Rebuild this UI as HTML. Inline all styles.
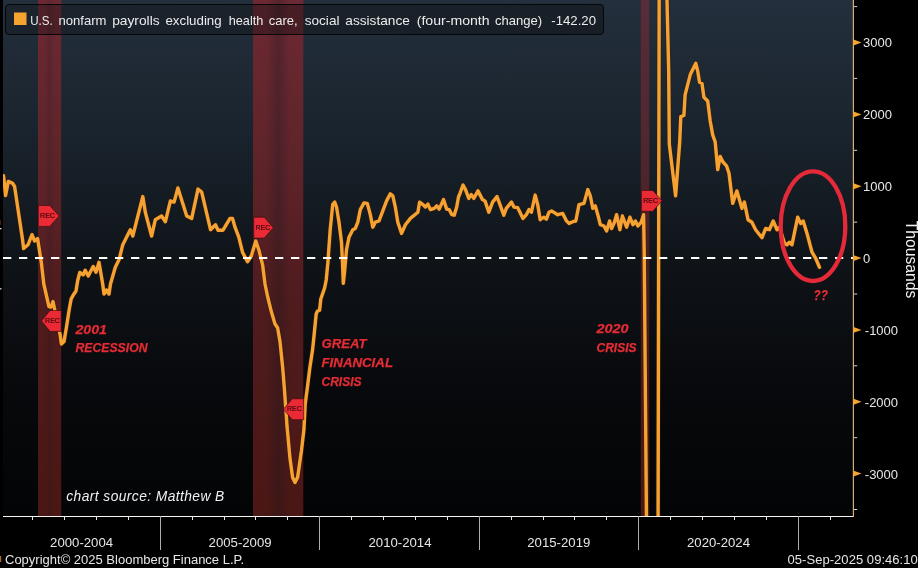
<!DOCTYPE html>
<html lang="en"><head><meta charset="utf-8"><title>U.S. nonfarm payrolls excluding health care, social assistance</title>
<style>
html,body{margin:0;padding:0;background:#000;overflow:hidden}
body{width:918px;height:568px;position:relative;font-family:"Liberation Sans",sans-serif}
svg{display:block;position:absolute;left:0;top:0}
text{font-family:"Liberation Sans",sans-serif}
.ax{font-size:13px;fill:#e6e6e6}
.ann{font-size:13px;font-weight:bold;font-style:italic;fill:#e62c34;stroke:#e62c34;stroke-width:0.25px}
.rec{font-size:7px;fill:#45060a;stroke:#45060a;stroke-width:0.2px}
</style></head><body>
<svg width="918" height="568" viewBox="0 0 918 568" role="img" aria-label="U.S. nonfarm payrolls chart">
<defs>
<linearGradient id="bg" x1="0" y1="0" x2="0" y2="1">
<stop offset="0" stop-color="#232f3c"/>
<stop offset="0.25" stop-color="#1a242e"/>
<stop offset="0.5" stop-color="#0f1419"/>
<stop offset="0.75" stop-color="#08090c"/>
<stop offset="1" stop-color="#030405"/>
</linearGradient>
<linearGradient id="band" x1="0" y1="0" x2="0" y2="1">
<stop offset="0" stop-color="#6d2933"/>
<stop offset="0.3" stop-color="#5f242a"/>
<stop offset="0.6" stop-color="#4f1b1d"/>
<stop offset="1" stop-color="#4b1714"/>
</linearGradient>
<linearGradient id="band3" x1="0" y1="0" x2="0" y2="1">
<stop offset="0" stop-color="#582c38"/>
<stop offset="0.3" stop-color="#50262e"/>
<stop offset="0.6" stop-color="#471c1f"/>
<stop offset="1" stop-color="#4b1714"/>
</linearGradient>
<linearGradient id="leg" x1="0" y1="0" x2="1" y2="0"><stop offset="0" stop-color="#0b0c0e" stop-opacity="0.3"/><stop offset="1" stop-color="#0b0c0e" stop-opacity="0.44"/></linearGradient>
<linearGradient id="stripe" x1="0" y1="0" x2="1" y2="0"><stop offset="0" stop-color="#0c1620" stop-opacity="0"/><stop offset="0.5" stop-color="#0c1620" stop-opacity="0.3"/><stop offset="1" stop-color="#0c1620" stop-opacity="0"/></linearGradient>
<clipPath id="plot"><rect x="3" y="0" width="850" height="516"/></clipPath>
</defs>
<rect x="0" y="0" width="918" height="568" fill="#000"/>
<rect x="3" y="0" width="850.5" height="516" fill="url(#bg)"/>
<rect x="38" y="0" width="23.2" height="516" fill="url(#band)"/>
<rect x="44.0" y="0" width="11.1" height="516" fill="url(#stripe)" opacity="0.5"/>
<rect x="253" y="0" width="50.3" height="516" fill="url(#band)"/>
<rect x="266.1" y="0" width="24.1" height="516" fill="url(#stripe)" opacity="0.85"/>
<rect x="640.8" y="0" width="8.5" height="516" fill="url(#band3)"/>
<g clip-path="url(#plot)"><polyline points="3.6,175.8 5.6,195.5 8.3,181.4 12.7,183.4 14.6,186.5 22.6,240.0 23.6,248.5 28.0,244.8 32.0,234.7 34.6,241.0 37.6,238.5 41.3,262.3 43.8,284.0 48.9,306.5 51.0,307.0 53.0,301.5 54.6,309.0 60.0,334.0 61.4,344.0 64.0,341.6 66.5,327.0 69.2,309.5 71.2,298.8 73.8,294.2 76.0,291.0 77.7,280.5 79.8,272.5 83.2,274.8 85.2,270.3 88.2,276.0 93.2,266.5 96.0,272.3 99.0,262.3 102.7,284.0 104.0,294.0 106.5,290.0 109.0,294.0 110.5,284.0 115.3,267.3 119.0,259.8 122.8,244.7 130.3,229.7 132.8,236.0 142.8,196.6 145.3,212.2 151.6,236.0 155.3,219.7 161.6,216.0 165.4,221.7 170.4,200.9 174.1,202.1 177.9,187.9 186.7,216.0 191.7,218.4 198.0,189.1 201.7,192.1 210.5,229.7 215.5,224.7 218.0,230.2 223.0,230.2 230.0,218.4 232.5,218.4 235.0,227.2 238.8,237.2 242.5,252.2 247.5,261.8 251.3,256.0 255.8,241.0 258.8,249.7 262.6,264.8 265.0,284.0 267.6,296.5 271.3,311.6 275.0,324.0 277.6,327.8 280.0,341.6 282.6,366.7 284.6,391.7 286.4,416.8 287.0,426.0 290.0,458.6 292.6,477.4 295.0,482.4 297.6,477.4 301.4,451.0 303.9,429.8 305.2,404.0 307.2,389.0 309.8,368.0 312.6,349.6 314.6,330.0 316.2,314.0 317.3,311.3 319.6,310.2 320.8,299.0 324.6,288.0 326.2,280.0 327.9,262.3 330.2,229.7 332.7,204.6 334.7,202.1 336.5,207.0 339.0,222.2 341.5,242.2 342.7,267.3 343.3,283.4 344.5,272.3 346.5,249.7 349.0,237.2 352.8,229.7 355.3,228.4 357.8,222.2 360.3,209.6 364.0,202.9 367.3,203.4 370.3,214.6 372.8,227.2 375.3,222.2 379.0,221.0 382.8,210.9 386.6,200.9 390.3,193.9 392.8,195.9 395.3,207.0 397.8,222.2 401.6,233.4 405.4,224.7 410.4,218.4 417.9,212.2 419.6,202.1 422.9,204.6 425.4,207.0 427.9,204.1 430.4,209.6 434.2,208.4 436.7,205.9 439.2,209.1 443.5,199.6 446.7,209.1 449.2,209.6 451.7,214.6 454.2,215.2 456.7,207.0 458.5,197.0 460.0,193.4 463.0,185.0 465.5,189.6 468.8,198.4 471.3,194.6 473.8,198.4 478.0,190.9 482.5,199.6 485.0,200.9 488.8,212.2 492.6,202.1 497.0,196.6 500.0,204.6 503.8,215.2 506.3,208.4 511.4,202.1 513.9,207.1 517.6,207.6 523.0,218.4 526.4,214.7 529.0,209.6 531.4,212.2 535.2,195.1 537.7,204.6 540.2,219.7 544.0,217.2 546.4,219.2 549.0,212.2 551.5,210.9 557.7,214.7 562.7,213.4 566.5,220.9 569.0,223.4 572.8,221.7 575.8,221.0 579.0,204.6 584.0,203.4 587.8,189.6 590.3,195.9 592.8,208.4 595.3,205.9 597.8,214.7 600.3,224.7 604.0,226.0 606.6,231.0 609.6,221.0 611.6,228.5 614.0,223.4 616.6,214.7 619.9,229.7 622.4,216.0 626.6,227.2 629.9,217.2 632.9,224.7 635.4,221.0 637.9,226.0 641.2,222.2 643.6,214.7 644.2,250.0 646.8,560.0 658.0,560.0 659.2,-20.0 666.5,-20.0 668.7,71.0 669.3,144.0 675.6,195.9 679.7,142.0 680.8,116.7 683.9,115.5 685.1,94.8 690.2,74.8 692.0,71.0 695.8,63.3 697.7,71.0 699.5,82.3 702.0,83.5 703.9,97.3 707.7,101.0 710.2,121.0 712.7,134.9 715.2,142.0 717.7,169.6 720.2,156.4 723.0,162.0 726.5,165.8 729.0,173.3 732.7,203.4 736.9,190.9 741.9,208.4 744.4,202.1 748.0,219.7 751.9,222.2 755.6,229.7 762.0,237.7 765.7,228.4 769.4,229.7 773.2,221.0 777.0,229.7 779.5,227.2 784.5,243.5 787.0,244.7 789.5,242.2 792.0,244.7 797.7,217.2 800.7,223.4 803.2,221.0 807.0,233.4 812.0,252.2 815.8,258.5 819.5,267.3" fill="none" stroke="#3a1c08" stroke-opacity="0.5" stroke-width="5" stroke-linejoin="round" stroke-linecap="round"/>
<polyline points="3.6,175.8 5.6,195.5 8.3,181.4 12.7,183.4 14.6,186.5 22.6,240.0 23.6,248.5 28.0,244.8 32.0,234.7 34.6,241.0 37.6,238.5 41.3,262.3 43.8,284.0 48.9,306.5 51.0,307.0 53.0,301.5 54.6,309.0 60.0,334.0 61.4,344.0 64.0,341.6 66.5,327.0 69.2,309.5 71.2,298.8 73.8,294.2 76.0,291.0 77.7,280.5 79.8,272.5 83.2,274.8 85.2,270.3 88.2,276.0 93.2,266.5 96.0,272.3 99.0,262.3 102.7,284.0 104.0,294.0 106.5,290.0 109.0,294.0 110.5,284.0 115.3,267.3 119.0,259.8 122.8,244.7 130.3,229.7 132.8,236.0 142.8,196.6 145.3,212.2 151.6,236.0 155.3,219.7 161.6,216.0 165.4,221.7 170.4,200.9 174.1,202.1 177.9,187.9 186.7,216.0 191.7,218.4 198.0,189.1 201.7,192.1 210.5,229.7 215.5,224.7 218.0,230.2 223.0,230.2 230.0,218.4 232.5,218.4 235.0,227.2 238.8,237.2 242.5,252.2 247.5,261.8 251.3,256.0 255.8,241.0 258.8,249.7 262.6,264.8 265.0,284.0 267.6,296.5 271.3,311.6 275.0,324.0 277.6,327.8 280.0,341.6 282.6,366.7 284.6,391.7 286.4,416.8 287.0,426.0 290.0,458.6 292.6,477.4 295.0,482.4 297.6,477.4 301.4,451.0 303.9,429.8 305.2,404.0 307.2,389.0 309.8,368.0 312.6,349.6 314.6,330.0 316.2,314.0 317.3,311.3 319.6,310.2 320.8,299.0 324.6,288.0 326.2,280.0 327.9,262.3 330.2,229.7 332.7,204.6 334.7,202.1 336.5,207.0 339.0,222.2 341.5,242.2 342.7,267.3 343.3,283.4 344.5,272.3 346.5,249.7 349.0,237.2 352.8,229.7 355.3,228.4 357.8,222.2 360.3,209.6 364.0,202.9 367.3,203.4 370.3,214.6 372.8,227.2 375.3,222.2 379.0,221.0 382.8,210.9 386.6,200.9 390.3,193.9 392.8,195.9 395.3,207.0 397.8,222.2 401.6,233.4 405.4,224.7 410.4,218.4 417.9,212.2 419.6,202.1 422.9,204.6 425.4,207.0 427.9,204.1 430.4,209.6 434.2,208.4 436.7,205.9 439.2,209.1 443.5,199.6 446.7,209.1 449.2,209.6 451.7,214.6 454.2,215.2 456.7,207.0 458.5,197.0 460.0,193.4 463.0,185.0 465.5,189.6 468.8,198.4 471.3,194.6 473.8,198.4 478.0,190.9 482.5,199.6 485.0,200.9 488.8,212.2 492.6,202.1 497.0,196.6 500.0,204.6 503.8,215.2 506.3,208.4 511.4,202.1 513.9,207.1 517.6,207.6 523.0,218.4 526.4,214.7 529.0,209.6 531.4,212.2 535.2,195.1 537.7,204.6 540.2,219.7 544.0,217.2 546.4,219.2 549.0,212.2 551.5,210.9 557.7,214.7 562.7,213.4 566.5,220.9 569.0,223.4 572.8,221.7 575.8,221.0 579.0,204.6 584.0,203.4 587.8,189.6 590.3,195.9 592.8,208.4 595.3,205.9 597.8,214.7 600.3,224.7 604.0,226.0 606.6,231.0 609.6,221.0 611.6,228.5 614.0,223.4 616.6,214.7 619.9,229.7 622.4,216.0 626.6,227.2 629.9,217.2 632.9,224.7 635.4,221.0 637.9,226.0 641.2,222.2 643.6,214.7 644.2,250.0 646.8,560.0 658.0,560.0 659.2,-20.0 666.5,-20.0 668.7,71.0 669.3,144.0 675.6,195.9 679.7,142.0 680.8,116.7 683.9,115.5 685.1,94.8 690.2,74.8 692.0,71.0 695.8,63.3 697.7,71.0 699.5,82.3 702.0,83.5 703.9,97.3 707.7,101.0 710.2,121.0 712.7,134.9 715.2,142.0 717.7,169.6 720.2,156.4 723.0,162.0 726.5,165.8 729.0,173.3 732.7,203.4 736.9,190.9 741.9,208.4 744.4,202.1 748.0,219.7 751.9,222.2 755.6,229.7 762.0,237.7 765.7,228.4 769.4,229.7 773.2,221.0 777.0,229.7 779.5,227.2 784.5,243.5 787.0,244.7 789.5,242.2 792.0,244.7 797.7,217.2 800.7,223.4 803.2,221.0 807.0,233.4 812.0,252.2 815.8,258.5 819.5,267.3" fill="none" stroke="#f6a232" stroke-width="3.4" stroke-linejoin="round" stroke-linecap="round"/></g>
<g clip-path="url(#plot)"><line x1="3" y1="258" x2="855" y2="258" stroke="#fff" stroke-width="2" stroke-dasharray="8.3 7.7"/></g>
<path d="M38.3,205.5 L49.699999999999996,205.5 L59.199999999999996,215.95 L49.699999999999996,226.4 L38.3,226.4 Z" fill="#ea2a35" stroke="#3c0a0d" stroke-opacity="0.75" stroke-width="0.9" stroke-linejoin="round"/>
<text class="rec" x="40.1" y="217.9" textLength="14.8" lengthAdjust="spacingAndGlyphs">REC</text>
<path d="M253.7,217.2 L264.3,217.2 L273.3,227.65 L264.3,238.1 L253.7,238.1 Z" fill="#ea2a35" stroke="#3c0a0d" stroke-opacity="0.75" stroke-width="0.9" stroke-linejoin="round"/>
<text class="rec" x="255.5" y="229.6" textLength="14.8" lengthAdjust="spacingAndGlyphs">REC</text>
<path d="M641.4,190.4 L652.8,190.4 L662.0,200.85 L652.8,211.3 L641.4,211.3 Z" fill="#ea2a35" stroke="#3c0a0d" stroke-opacity="0.75" stroke-width="0.9" stroke-linejoin="round"/>
<text class="rec" x="643.2" y="202.8" textLength="14.8" lengthAdjust="spacingAndGlyphs">REC</text>
<path d="M61.2,310.5 L50.0,310.5 L41.5,320.95 L50.0,331.4 L61.2,331.4 Z" fill="#ea2a35" stroke="#3c0a0d" stroke-opacity="0.75" stroke-width="0.9" stroke-linejoin="round"/>
<text class="rec" x="45.1" y="322.9" textLength="14.8" lengthAdjust="spacingAndGlyphs">REC</text>
<path d="M303.7,398.8 L292.3,398.8 L283.4,409.25 L292.3,419.7 L303.7,419.7 Z" fill="#ea2a35" stroke="#3c0a0d" stroke-opacity="0.75" stroke-width="0.9" stroke-linejoin="round"/>
<text class="rec" x="287.0" y="411.2" textLength="14.8" lengthAdjust="spacingAndGlyphs">REC</text>
<ellipse cx="813" cy="226.2" rx="32.3" ry="54.8" fill="none" stroke="#e42a38" stroke-width="4.3"/>
<text class="ann" x="75.5" y="333.6" textLength="31.5" lengthAdjust="spacingAndGlyphs">2001</text>
<text class="ann" x="75.5" y="352.4" textLength="72" lengthAdjust="spacingAndGlyphs">RECESSION</text>
<text class="ann" x="321.5" y="347.9" textLength="45" lengthAdjust="spacingAndGlyphs">GREAT</text>
<text class="ann" x="321.5" y="366.7" textLength="71.5" lengthAdjust="spacingAndGlyphs">FINANCIAL</text>
<text class="ann" x="321.5" y="385.5" textLength="40" lengthAdjust="spacingAndGlyphs">CRISIS</text>
<text class="ann" x="596.5" y="332.9" textLength="32" lengthAdjust="spacingAndGlyphs">2020</text>
<text class="ann" x="596.5" y="351.7" textLength="40" lengthAdjust="spacingAndGlyphs">CRISIS</text>
<text class="ann" x="813.6" y="300.3" style="font-size:15px" textLength="14.2" lengthAdjust="spacingAndGlyphs">??</text>
<text x="66.3" y="500.7" font-size="13.8" font-style="italic" fill="#f0f0f0" textLength="158" lengthAdjust="spacing">chart source: Matthew B</text>
<rect x="5.5" y="4.5" width="598" height="30" rx="3.5" ry="3.5" fill="url(#leg)" stroke="#050607" stroke-width="1"/>
<rect x="14" y="12.5" width="12.5" height="12.5" fill="#f6a42f"/>
<text y="24.7" font-size="13.4" fill="#ececec"><tspan x="30.2" textLength="22.5" lengthAdjust="spacingAndGlyphs">U.S.</tspan> <tspan x="58.5" textLength="48.0" lengthAdjust="spacingAndGlyphs">nonfarm</tspan> <tspan x="112.2" textLength="47.4" lengthAdjust="spacingAndGlyphs">payrolls</tspan> <tspan x="165.4" textLength="56.3" lengthAdjust="spacingAndGlyphs">excluding</tspan> <tspan x="228.7" textLength="34.6" lengthAdjust="spacingAndGlyphs">health</tspan> <tspan x="268.8" textLength="28.8" lengthAdjust="spacingAndGlyphs">care,</tspan> <tspan x="304.7" textLength="34.8" lengthAdjust="spacingAndGlyphs">social</tspan> <tspan x="345.3" textLength="64.6" lengthAdjust="spacingAndGlyphs">assistance</tspan> <tspan x="416.7" textLength="72.9" lengthAdjust="spacingAndGlyphs">(four-month</tspan> <tspan x="495" textLength="47.2" lengthAdjust="spacingAndGlyphs">change)</tspan> <tspan x="551.3" textLength="44.7" lengthAdjust="spacingAndGlyphs">-142.20</tspan></text>
<rect x="3" y="516" width="851" height="1" fill="#f4f4f4"/>
<rect x="32" y="516" width="1" height="4" fill="#e8e8e8"/>
<rect x="64" y="516" width="1" height="4" fill="#e8e8e8"/>
<rect x="96" y="516" width="1" height="4" fill="#e8e8e8"/>
<rect x="128" y="516" width="1" height="4" fill="#e8e8e8"/>
<rect x="160" y="516" width="1" height="34" fill="#adadad"/>
<rect x="192" y="516" width="1" height="4" fill="#e8e8e8"/>
<rect x="224" y="516" width="1" height="4" fill="#e8e8e8"/>
<rect x="255" y="516" width="1" height="4" fill="#e8e8e8"/>
<rect x="287" y="516" width="1" height="4" fill="#e8e8e8"/>
<rect x="319" y="516" width="1" height="34" fill="#adadad"/>
<rect x="351" y="516" width="1" height="4" fill="#e8e8e8"/>
<rect x="383" y="516" width="1" height="4" fill="#e8e8e8"/>
<rect x="415" y="516" width="1" height="4" fill="#e8e8e8"/>
<rect x="447" y="516" width="1" height="4" fill="#e8e8e8"/>
<rect x="479" y="516" width="1" height="34" fill="#adadad"/>
<rect x="511" y="516" width="1" height="4" fill="#e8e8e8"/>
<rect x="543" y="516" width="1" height="4" fill="#e8e8e8"/>
<rect x="574" y="516" width="1" height="4" fill="#e8e8e8"/>
<rect x="606" y="516" width="1" height="4" fill="#e8e8e8"/>
<rect x="638" y="516" width="1" height="34" fill="#adadad"/>
<rect x="670" y="516" width="1" height="4" fill="#e8e8e8"/>
<rect x="702" y="516" width="1" height="4" fill="#e8e8e8"/>
<rect x="734" y="516" width="1" height="4" fill="#e8e8e8"/>
<rect x="766" y="516" width="1" height="4" fill="#e8e8e8"/>
<rect x="798" y="516" width="1" height="34" fill="#adadad"/>
<rect x="830" y="516" width="1" height="4" fill="#e8e8e8"/>
<text class="ax" x="50.1" y="546.7" textLength="63" lengthAdjust="spacingAndGlyphs">2000-2004</text>
<text class="ax" x="208.6" y="546.7" textLength="63" lengthAdjust="spacingAndGlyphs">2005-2009</text>
<text class="ax" x="368.5" y="546.7" textLength="63" lengthAdjust="spacingAndGlyphs">2010-2014</text>
<text class="ax" x="527.3" y="546.7" textLength="63" lengthAdjust="spacingAndGlyphs">2015-2019</text>
<text class="ax" x="687.0" y="546.7" textLength="63" lengthAdjust="spacingAndGlyphs">2020-2024</text>
<rect x="852.8" y="0" width="1.2" height="517" fill="#d6ab78"/>
<rect x="854" y="509.0" width="3.2" height="1" fill="#cfcfcf"/>
<path d="M853,470.4 L861.5,473.6 L853,476.8 Z" fill="#f5a432"/>
<text class="ax" x="864.8" y="478.5">-3000</text>
<rect x="854" y="437.2" width="3.2" height="1" fill="#cfcfcf"/>
<path d="M853,398.6 L861.5,401.8 L853,404.9 Z" fill="#f5a432"/>
<text class="ax" x="864.8" y="406.6">-2000</text>
<rect x="854" y="365.3" width="3.2" height="1" fill="#cfcfcf"/>
<path d="M853,326.7 L861.5,329.9 L853,333.1 Z" fill="#f5a432"/>
<text class="ax" x="864.8" y="334.8">-1000</text>
<rect x="854" y="293.5" width="3.2" height="1" fill="#cfcfcf"/>
<path d="M853,254.9 L861.5,258.1 L853,261.2 Z" fill="#f5a432"/>
<text class="ax" x="863" y="262.9">0</text>
<rect x="854" y="221.6" width="3.2" height="1" fill="#cfcfcf"/>
<path d="M853,183.0 L861.5,186.2 L853,189.4 Z" fill="#f5a432"/>
<text class="ax" x="863" y="191.1">1000</text>
<rect x="854" y="149.8" width="3.2" height="1" fill="#cfcfcf"/>
<path d="M853,111.2 L861.5,114.4 L853,117.6 Z" fill="#f5a432"/>
<text class="ax" x="863" y="119.3">2000</text>
<rect x="854" y="77.9" width="3.2" height="1" fill="#cfcfcf"/>
<path d="M853,39.3 L861.5,42.5 L853,45.7 Z" fill="#f5a432"/>
<text class="ax" x="863" y="47.4">3000</text>
<rect x="854" y="6.1" width="3.2" height="1" fill="#cfcfcf"/>
<text x="0" y="0" font-size="17" fill="#f0f0f0" textLength="77.5" lengthAdjust="spacingAndGlyphs" transform="translate(905.8,220.8) rotate(90)">Thousands</text>
<text class="ax" x="5" y="563.8">Copyright© 2025 Bloomberg Finance L.P.</text>
<text class="ax" x="787.5" y="563.5" textLength="130.3" lengthAdjust="spacing">05-Sep-2025 09:46:10</text>
<rect x="0" y="228" width="1.5" height="1.2" fill="#e8e8e8"/>
<rect x="0" y="288.2" width="1.5" height="1.2" fill="#e8e8e8"/>
<rect x="0" y="220" width="0.8" height="5" fill="#5a2a10"/>
<rect x="0" y="556" width="1.2" height="6" fill="#b06a22"/>
</svg>
</body></html>
